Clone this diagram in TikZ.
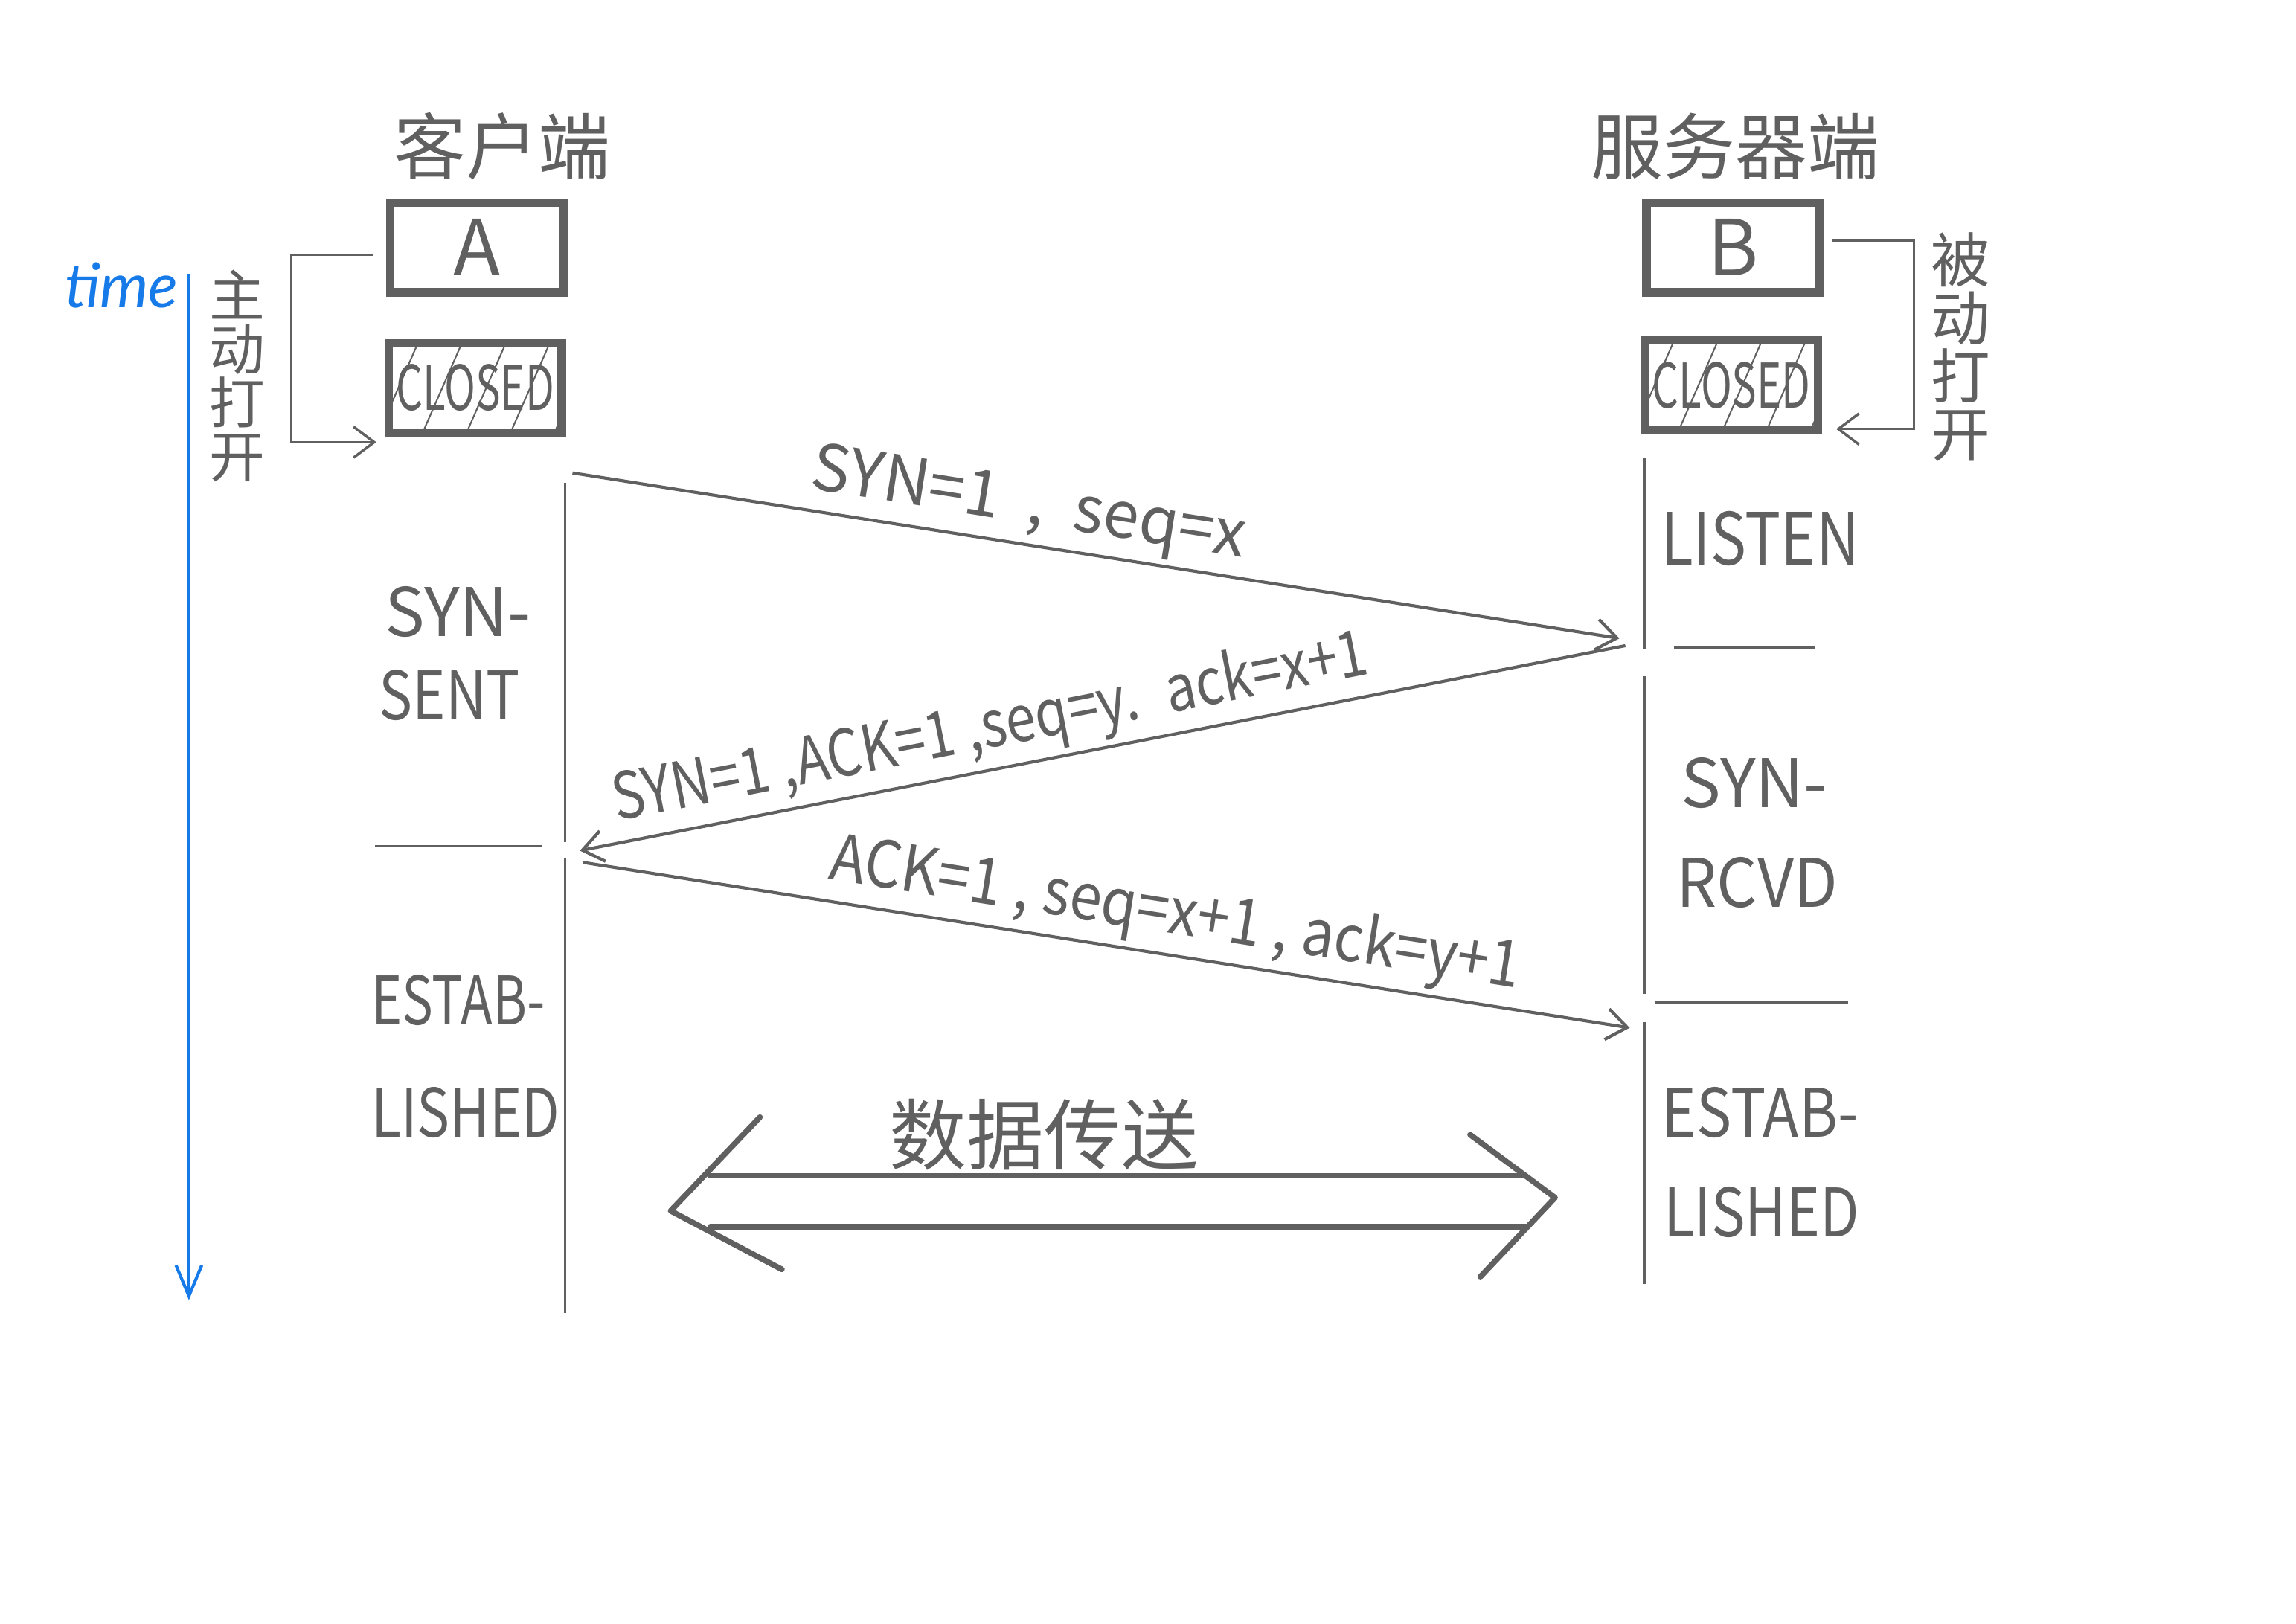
\documentclass[tikz,border=0pt]{standalone}
\usepackage{fontspec}
\setmainfont{Noto Sans CJK SC}
\newfontfamily\timefont{Lato}
\usetikzlibrary{arrows.meta}
\definecolor{ink}{RGB}{96,96,96}
\definecolor{timeblue}{RGB}{22,122,232}
\tikzset{
  box/.style={draw=ink, line width=1.7pt, minimum width=1.18cm, minimum height=0.61cm, inner sep=0pt},
  lbl/.style={text=ink, inner sep=0pt},
  thinline/.style={draw=ink, line width=0.5pt},
  msg/.style={draw=ink, line width=0.6pt, -{Straight Barb[length=4pt,width=6pt]}},
  bracket/.style={draw=ink, line width=0.5pt, -{Straight Barb[length=4pt,width=6pt]}},
  bigarrow/.style={draw=ink, line width=1.1pt, line cap=round, line join=round},
  hatch/.style={draw=ink, line width=0.3pt},
  msglbl/.style={text=ink, inner sep=1pt, font=\fontsize{12.5}{14}\selectfont},
  stlbl/.style={text=ink, inner sep=0pt, font=\fontsize{13}{15}\selectfont},
}
\begin{document}
\begin{tikzpicture}[x=0.01cm, y=-0.01cm]
\useasboundingbox (0,0) rectangle (1568,1109);

% ---------- titles ----------
\node[lbl, font=\fontsize{14}{16}\selectfont] (client) at (343,100) {客户端};
\node[lbl, font=\fontsize{14}{16}\selectfont] (server) at (1185,100) {服务器端};

% ---------- hatching of CLOSED boxes ----------
\begin{scope}
  \clip (264,233) rectangle (385,297);
  \foreach \h in {258,288,318,348,378} \draw[hatch] (\h,297) -- ++(28,-64);
\end{scope}
\begin{scope}
  \clip (1122,231) rectangle (1243,295);
  \foreach \h in {1116,1146,1176,1206,1236} \draw[hatch] (\h,295) -- ++(28,-64);
\end{scope}

% ---------- boxes ----------
\node[box] (A) at (325.5,169) {\fontsize{15}{17}\selectfont\color{ink}A};
\node[box] (CA) at (324.5,265) {\fontsize{12}{14}\selectfont\color{ink}\scalebox{0.68}[1]{CLOSED}};
\node[box] (B) at (1183.5,169) {\fontsize{15}{17}\selectfont\color{ink}B};
\node[box] (CB) at (1182.5,263) {\fontsize{12}{14}\selectfont\color{ink}\scalebox{0.68}[1]{CLOSED}};

% ---------- time axis ----------
\node[text=timeblue, inner sep=0pt, font=\timefont\itshape\fontsize{12}{14}\selectfont] (time) at (83,195) {time};
\coordinate (t0) at (129,187);
\coordinate (t1) at (129,888);
\draw[timeblue, line width=0.6pt, -{Straight Barb[length=6pt,width=5pt]}] (t0) -- (t1);

% ---------- active / passive open ----------
\node[lbl, align=center, font=\fontsize{10.8}{10.4}\selectfont] (active) at (162,257) {主\\动\\打\\开};
\node[lbl, align=center, font=\fontsize{11.5}{11.3}\selectfont] (passive) at (1339,237) {被\\动\\打\\开};

\coordinate (la0) at (255,174);
\coordinate (la1) at (199,174);
\coordinate (la2) at (199,302);
\coordinate (la3) at (257,302);
\draw[bracket] (la0) -- (la1) -- (la2) -- (la3);
\coordinate (ra0) at (1251,164);
\coordinate (ra1) at (1307,164);
\coordinate (ra2) at (1307,293);
\coordinate (ra3) at (1254,293);
\draw[bracket] (ra0) -- (ra1) -- (ra2) -- (ra3);

% ---------- timelines ----------
\coordinate (L1a) at (386,330); \coordinate (L1b) at (386,575);
\coordinate (L2a) at (386,586); \coordinate (L2b) at (386,897);
\draw[thinline] (L1a) -- (L1b);
\draw[thinline] (L2a) -- (L2b);
\coordinate (R1a) at (1123,313); \coordinate (R1b) at (1123,443);
\coordinate (R2a) at (1123,462); \coordinate (R2b) at (1123,679);
\coordinate (R3a) at (1123,698); \coordinate (R3b) at (1123,877);
\draw[thinline] (R1a) -- (R1b);
\draw[thinline] (R2a) -- (R2b);
\draw[thinline] (R3a) -- (R3b);

% separators
\coordinate (s1a) at (256,578); \coordinate (s1b) at (370,578);
\coordinate (s2a) at (1143,442); \coordinate (s2b) at (1240,442);
\coordinate (s3a) at (1130,685); \coordinate (s3b) at (1262,685);
\draw[thinline] (s1a) -- (s1b);
\draw[thinline] (s2a) -- (s2b);
\draw[thinline] (s3a) -- (s3b);

% ---------- state labels ----------
\node[stlbl] (synL) at (313,418) {SYN-};
\node[stlbl] (sentL) at (307,475) {\scalebox{0.84}[1]{SENT}};
\node[stlbl] (estL) at (313,683) {\scalebox{0.78}[1]{ESTAB-}};
\node[stlbl] (lisL) at (318,760) {\scalebox{0.82}[1]{LISHED}};
\node[stlbl, font=\fontsize{14}{16}\selectfont] (listen) at (1202,368) {\scalebox{0.83}[1]{LISTEN}};
\node[stlbl] (synR) at (1198,535) {SYN-};
\node[stlbl] (rcvd) at (1200,603) {\scalebox{0.95}[1]{RCVD}};
\node[stlbl] (estR) at (1202,760) {\scalebox{0.88}[1]{ESTAB-}};
\node[stlbl] (lisR) at (1203,828) {\scalebox{0.85}[1]{LISHED}};

% ---------- handshake messages ----------
\coordinate (m1s) at (391,323); \coordinate (m1e) at (1106,436);
\coordinate (m2s) at (1110,441); \coordinate (m2e) at (396,581);
\coordinate (m3s) at (398,589); \coordinate (m3e) at (1113,702);
\draw[msg] (m1s) -- node[msglbl, sloped, above, pos=0.43] (lab1) {SYN=1 \ , \ seq=x} (m1e);
\draw[msg] (m2s) -- node[msglbl, sloped, above, pos=0.60] (lab2) {\scalebox{0.84}[1]{SYN=1 ,ACK=1 ,seq=y. \ ack=x+1}} (m2e);
\draw[msg] (m3s) -- node[msglbl, sloped, above, pos=0.56] (lab3) {\scalebox{0.9}[1]{ACK=1 , seq=x+1 , ack=y+1}} (m3e);

% ---------- data transfer ----------
\coordinate (hl1) at (519,763); \coordinate (hl2) at (458,827); \coordinate (hl3) at (534,867);
\coordinate (hr1) at (1004,775); \coordinate (hr2) at (1062,818); \coordinate (hr3) at (1011,872);
\coordinate (u1) at (485,803); \coordinate (u2) at (1042,803);
\coordinate (d1) at (485,838); \coordinate (d2) at (1042,838);
\draw[bigarrow] (hl1) -- (hl2) -- (hl3);
\draw[bigarrow] (hr1) -- (hr2) -- (hr3);
\draw[bigarrow] (u1) -- (u2);
\draw[bigarrow] (d1) -- (d2);
\node[lbl, font=\fontsize{15}{17}\selectfont] (data) at (713,775) {数据传送};
\end{tikzpicture}
\end{document}
